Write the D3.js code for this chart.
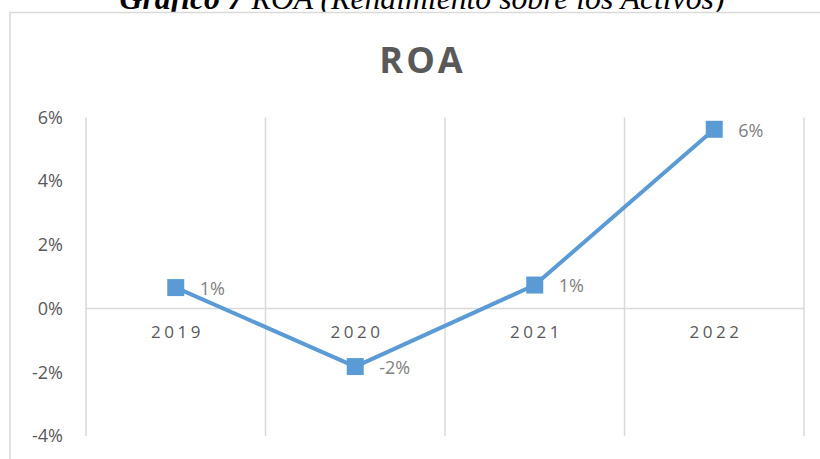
<!DOCTYPE html>
<html>
<head>
<meta charset="utf-8">
<script src="https://cdn.jsdelivr.net/npm/d3@7"></script>
<style>
  html, body { margin: 0; padding: 0; background: #fff; overflow: hidden; }
  svg { display: block; }
</style>
</head>
<body>
<svg id="chart" width="820" height="459"></svg>
<script>
const years = ["2019", "2020", "2021", "2022"];
const roaValues = [0.0066, -0.0182, 0.0074, 0.0563];
const yTicks = [-0.04, -0.02, 0, 0.02, 0.04, 0.06];

const LINE_COLOR = "#5b9bd5";
const GRID_COLOR = "#d9d9d9";

const locale = d3.formatLocale({ decimal: ".", thousands: ",", grouping: [3], currency: ["$", ""], minus: "-" });
const pct = locale.format(".0%");

const svg = d3.select("#chart");
const width = 820;
const height = 459;
const plot = { left: 86, right: 804, top: 117.5, bottom: 436 };

// caption above the chart box (cut off at the top, like the source)
const caption = svg.append("text")
  .attr("x", 422)
  .attr("y", 9)
  .attr("text-anchor", "middle")
  .style("font-family", "'Liberation Serif', 'Times New Roman', serif")
  .style("font-style", "italic")
  .style("font-size", "29px")
  .attr("fill", "#000");
caption.append("tspan").style("font-weight", "bold").text("Gráfico 7");
caption.append("tspan").text(" ROA (Rendimiento sobre los Activos)");

// fit caption to the width seen in the source (~605px)
const captionWidth = caption.node().getComputedTextLength();
if (captionWidth > 0) caption.style("font-size", `${(29 * 605) / captionWidth}px`);

// chart area border (runs off the right and bottom edges)
svg.append("rect")
  .attr("x", 10)
  .attr("y", 12.5)
  .attr("width", width)
  .attr("height", height)
  .attr("fill", "#fff")
  .attr("stroke", GRID_COLOR)
  .attr("stroke-width", 1.5);

svg.append("text")
  .attr("x", 421)
  .attr("y", 73)
  .attr("dx", 1.5)
  .attr("text-anchor", "middle")
  .style("font-family", "'Open Sans', sans-serif")
  .style("font-weight", "bold")
  .style("font-size", "36px")
  .style("letter-spacing", "3px")
  .attr("fill", "#595959")
  .text("ROA");

const x = d3.scaleBand().domain(years).range([plot.left, plot.right]);
const y = d3.scaleLinear().domain([-0.04, 0.06]).range([plot.bottom, plot.top]);

// vertical gridlines at category boundaries
const bounds = years.map((d) => x(d)).concat([plot.right]);
svg.append("g")
  .selectAll("line")
  .data(bounds)
  .join("line")
  .attr("x1", (d) => d)
  .attr("x2", (d) => d)
  .attr("y1", plot.top)
  .attr("y2", plot.bottom)
  .attr("stroke", GRID_COLOR)
  .attr("stroke-width", 1.5);

// horizontal axis line at 0%
svg.append("line")
  .attr("x1", plot.left)
  .attr("x2", plot.right)
  .attr("y1", y(0))
  .attr("y2", y(0))
  .attr("stroke", GRID_COLOR)
  .attr("stroke-width", 1.5);

// y axis labels
const yAxis = svg.append("g")
  .attr("transform", `translate(${plot.left},0)`)
  .call(d3.axisLeft(y).tickValues(yTicks).tickFormat(pct).tickSize(0).tickPadding(23));
yAxis.select(".domain").remove();
yAxis.selectAll("text")
  .style("font-family", "'Open Sans', sans-serif")
  .style("font-size", "18px")
  .attr("fill", "#595959");

// x axis labels, below the 0% line
const xAxis = svg.append("g")
  .attr("transform", `translate(0,${y(0)})`)
  .call(d3.axisBottom(x).tickSize(0).tickPadding(17));
xAxis.select(".domain").remove();
xAxis.selectAll("text")
  .style("font-family", "'Open Sans', sans-serif")
  .style("font-size", "17px")
  .style("letter-spacing", "3.5px")
  .attr("dx", "1.75px")
  .attr("fill", "#595959");

const points = years.map((d, i) => ({ year: d, value: roaValues[i] }));

const line = d3.line()
  .x((d) => x(d.year) + x.bandwidth() / 2)
  .y((d) => y(d.value));

svg.append("path")
  .datum(points)
  .attr("d", line)
  .attr("fill", "none")
  .attr("stroke", LINE_COLOR)
  .attr("stroke-width", 4)
  .attr("stroke-linejoin", "round");

const size = 17;
svg.append("g")
  .selectAll("rect")
  .data(points)
  .join("rect")
  .attr("x", (d) => x(d.year) + x.bandwidth() / 2 - size / 2)
  .attr("y", (d) => y(d.value) - size / 2)
  .attr("width", size)
  .attr("height", size)
  .attr("fill", LINE_COLOR);

svg.append("g")
  .selectAll("text")
  .data(points)
  .join("text")
  .attr("x", (d) => x(d.year) + x.bandwidth() / 2 + 24)
  .attr("y", (d) => y(d.value) + 1)
  .attr("dy", "0.35em")
  .style("font-family", "'Open Sans', sans-serif")
  .style("font-size", "18px")
  .attr("fill", "#7f7f7f")
  .text((d) => pct(d.value));
</script>
</body>
</html>
